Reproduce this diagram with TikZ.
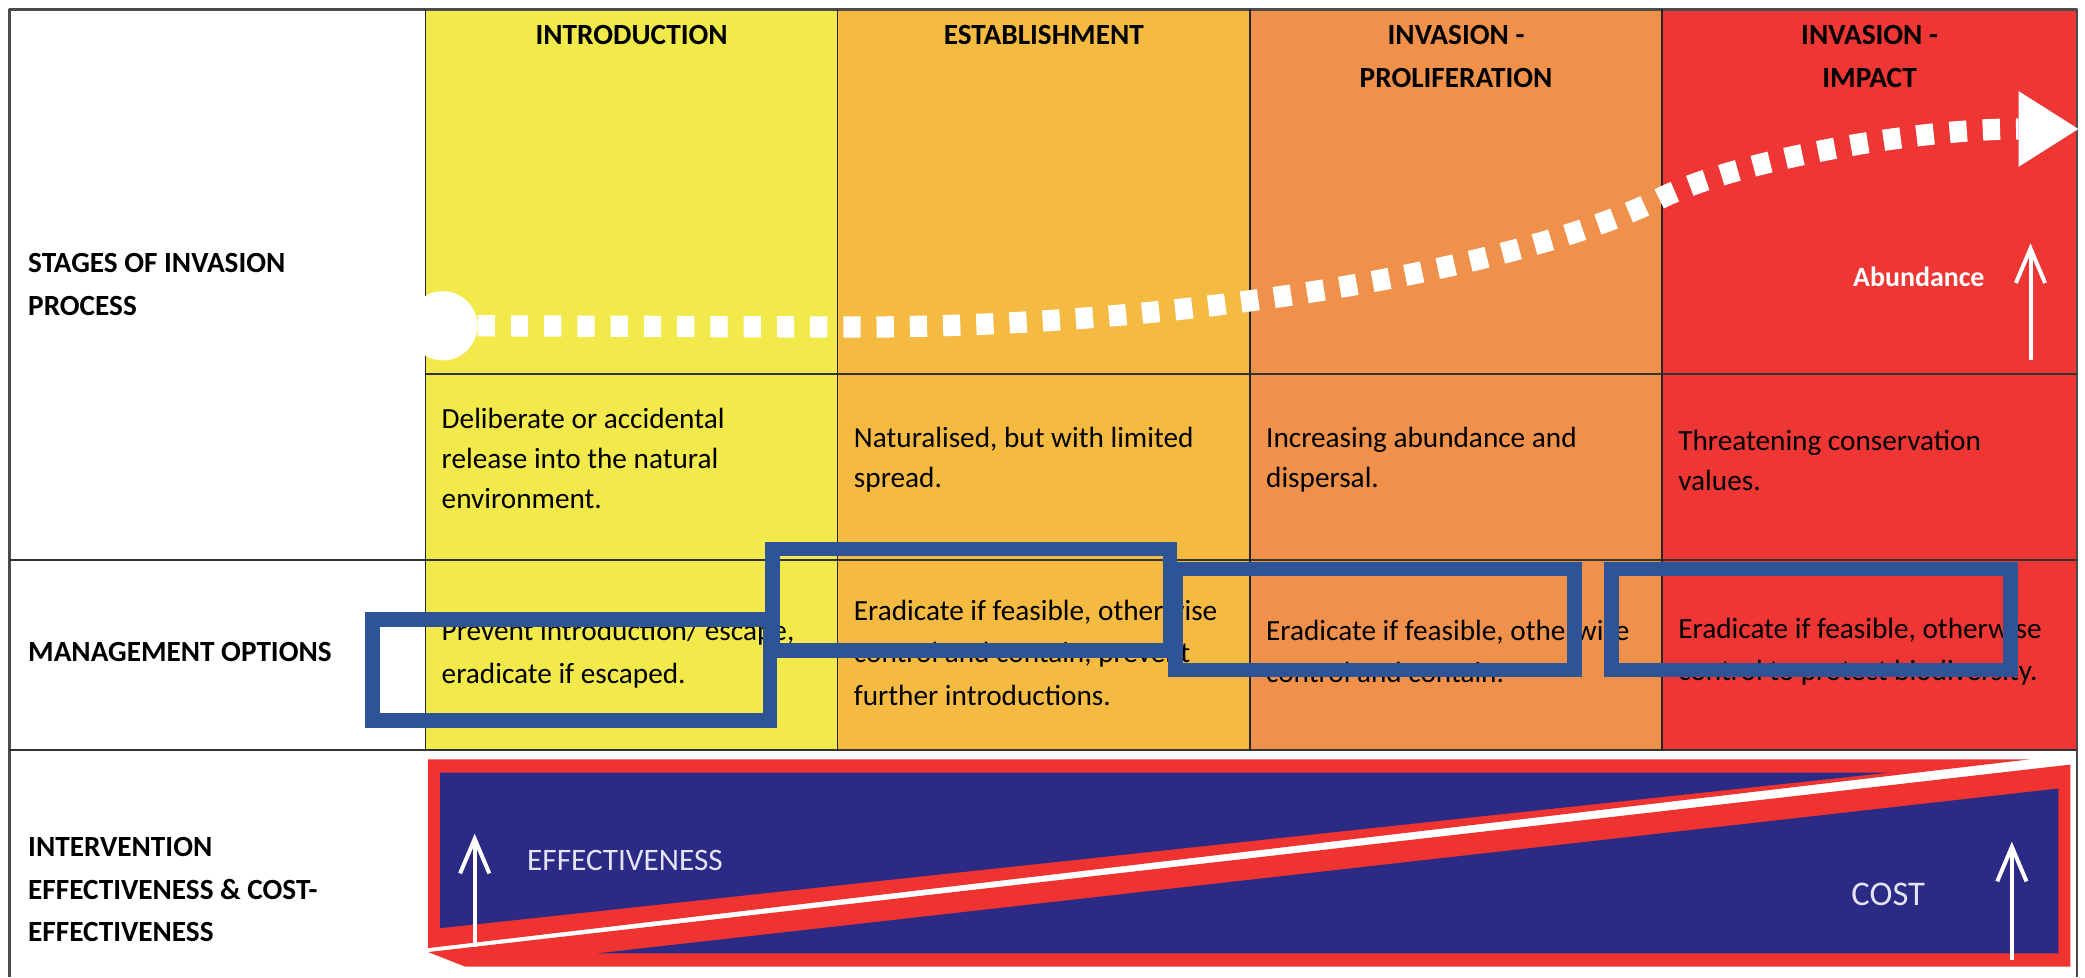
\documentclass[tikz,border=0pt]{standalone}
\usepackage{fontspec}
\setmainfont{Carlito}
\usetikzlibrary{arrows.meta}
\definecolor{colIntro}{HTML}{F2EA4A}
\definecolor{colEstab}{HTML}{F5BA41}
\definecolor{colProlif}{HTML}{F0914B}
\definecolor{colImpact}{HTML}{EE3634}
\definecolor{colNavy}{HTML}{2B2A84}
\definecolor{colBandRed}{HTML}{EE3331}
\definecolor{colMark}{HTML}{2F5496}
\definecolor{colPale}{HTML}{E4E4F6}
\begin{document}
\begin{tikzpicture}[>={Straight Barb[length=26bp,width=22bp]},line join=bevel,
  headtxt/.style={inner sep=0pt,align=center,font=\fontsize{22bp}{33bp}\selectfont\bfseries},
  lbltxt/.style={anchor=west,inner sep=0pt,align=left,font=\fontsize{22bp}{32bp}\selectfont\bfseries},
  desctxt/.style={anchor=west,inner sep=0pt,align=left,font=\fontsize{22bp}{30bp}\selectfont},
  opttxt/.style={anchor=west,inner sep=0pt,align=left,font=\fontsize{22bp}{32bp}\selectfont},
  sepline/.style={black!80,line width=1.6bp},
  colline/.style={black!85,line width=1.1bp},
  markbox/.style={draw=colMark,line width=11bp,line join=miter},
  uparrow/.style={white,line width=3bp,->},
]
%%
\useasboundingbox (0bp,0bp) rectangle (1568bp,735bp);
\fill [colIntro] (320bp,171bp) rectangle (630bp,728bp);
  \fill [colEstab] (630bp,171bp) rectangle (940bp,728bp);
  \fill [colProlif] (940bp,171bp) rectangle (1250bp,728bp);
  \fill [colImpact] (1250bp,171bp) rectangle (1562bp,728bp);
  \draw [black!70,line width=2bp] (7bp,0bp) -- (7bp,728bp) -- (1562bp,728bp) -- (1562bp,0bp);
  \draw [sepline] (320bp,454bp) -- (1562bp,454bp);
  \draw [sepline] (7bp,314bp) -- (1562bp,314bp);
  \draw [sepline] (7bp,171bp) -- (1562bp,171bp);
  \draw [colline] (320bp,171bp) -- (320bp,728bp);
  \draw [colline] (630bp,171bp) -- (630bp,728bp);
  \draw [colline] (940bp,171bp) -- (940bp,728bp);
  \draw [colline] (1250bp,171bp) -- (1250bp,728bp);
%
\node (head_intro) at (475bp,709bp) [headtxt] {INTRODUCTION};
  \node (head_estab) at (785bp,709bp) [headtxt] {ESTABLISHMENT};
  \node (head_prolif) at (1095bp,692.5bp) [headtxt] {INVASION -\\PROLIFERATION};
  \node (head_impact) at (1406bp,692.5bp) [headtxt] {INVASION -\\IMPACT};
  \node (lbl_stages) at (21bp,521bp) [lbltxt] {STAGES OF INVASION\\PROCESS};
  \node (lbl_manage) at (21bp,245bp) [lbltxt] {MANAGEMENT OPTIONS};
  \node (lbl_cost) at (21bp,66bp) [lbltxt] {INTERVENTION\\EFFECTIVENESS \& COST-\\EFFECTIVENESS};
%
\node (desc_intro) at (332bp,390bp) [desctxt] {Deliberate or accidental\\release into the natural\\environment.};
  \node (desc_estab) at (642bp,389bp) [desctxt] {Naturalised, but with limited\\spread.};
  \node (desc_prolif) at (952bp,389bp) [desctxt] {Increasing abundance and\\dispersal.};
  \node (desc_impact) at (1262bp,389bp) [desctxt] {Threatening conservation\\values.};
  \node (opt_intro) at (332bp,243bp) [opttxt] {Prevent introduction/ escape,\\eradicate if escaped.};
  \node (opt_estab) at (642bp,244bp) [opttxt] {Eradicate if feasible, otherwise\\control and contain, prevent\\further introductions.};
  \node (opt_prolif) at (952bp,245bp) [opttxt] {Eradicate if feasible, otherwise\\control and contain.};
  \node (opt_impact) at (1262bp,245bp) [opttxt] {Eradicate if feasible, otherwise\\control to protect biodiversity.};
%
\node (node_start) at (333bp,490bp) [circle,fill=white,minimum size=52bp,inner sep=0pt] {};
  \coordinate (node_end) at (1563bp,638bp);
  \draw [white,line width=16bp,dash pattern=on 13bp off 12bp,-{Triangle[length=45bp,width=57bp,line width=0pt]}] (node_start.east) -- (640bp,489bp) ..controls (900bp,489bp) and (1150bp,535bp)  .. (1251bp,587bp) ..controls (1310bp,615bp) and (1440bp,638bp)  .. (node_end);
  \node (txt_abund) at (1443bp,527bp) [font=\fontsize{21bp}{25bp}\selectfont\bfseries,text=white] {Abundance};
  \coordinate (abund_base) at (1527bp,464bp);
  \coordinate (abund_tip) at (1527bp,552bp);
  \draw [uparrow] (abund_base) -- (abund_tip);
%
\fill [colBandRed] (322bp,164bp) -- (1527bp,164bp) -- (322bp,22bp) -- cycle;
  \fill [colNavy] (331bp,154bp) -- (1421bp,154bp) -- (331bp,37bp) -- cycle;
  \fill [colBandRed] (322bp,19bp) -- (1557bp,160bp) -- (1557bp,8bp) -- (350bp,8bp) -- cycle;
  \fill [colNavy] (449bp,18bp) -- (1548bp,142bp) -- (1548bp,18bp) -- cycle;
  \node (txt_effect) at (470bp,88bp) [font=\fontsize{23.5bp}{28bp}\selectfont,text=colPale] {EFFECTIVENESS};
  \node (txt_cost) at (1420bp,62bp) [font=\fontsize{26bp}{30bp}\selectfont,text=colPale] {COST};
  \coordinate (effect_base) at (357bp,23bp);
  \coordinate (effect_tip) at (357bp,108bp);
  \draw [uparrow] (effect_base) -- (effect_tip);
  \coordinate (cost_base) at (1513bp,13bp);
  \coordinate (cost_tip) at (1513bp,102bp);
  \draw [uparrow] (cost_base) -- (cost_tip);
%
\draw [markbox] (280bp,193bp) rectangle (579bp,269bp);
  \draw [markbox] (581bp,246bp) rectangle (880bp,322bp);
  \draw [markbox] (884bp,231bp) rectangle (1184bp,307bp);
  \draw [markbox] (1212bp,231bp) rectangle (1512bp,307bp);
%
\end{tikzpicture}
\end{document}
